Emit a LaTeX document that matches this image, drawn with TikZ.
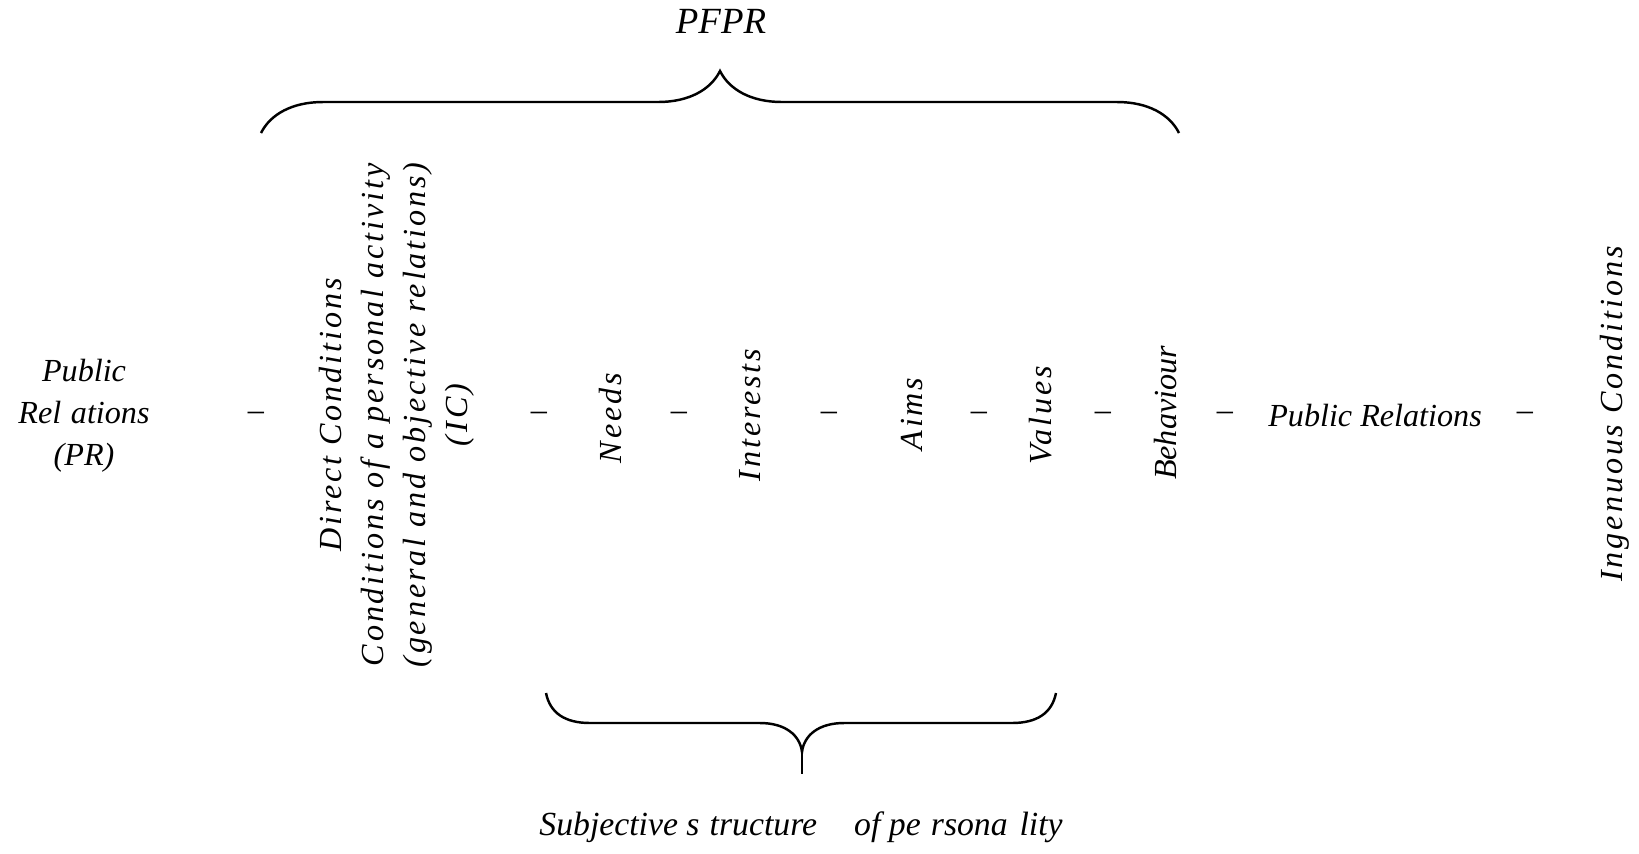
\documentclass[tikz,border=0pt]{standalone}
\usepackage{fontspec}
\setmainfont{Liberation Serif}
\usepackage{tikz}
\usetikzlibrary{decorations.pathreplacing,calc}

\newcommand{\lsp}{\addfontfeature{LetterSpace=9}}

\begin{document}
\begin{tikzpicture}[x=0.02cm,y=-0.02cm,
  every node/.style={font=\fontsize{18.3}{23.9}\selectfont\itshape, inner sep=0pt},
  vlab/.style={rotate=90, align=center, font=\fontsize{18.3}{23.9}\selectfont\itshape\lsp},
  brc/.style={line width=1.4pt}]
\useasboundingbox (0,0) rectangle (1639,853);

\node (pr) at (84,416) [align=center] {Public\\Rel\hspace{0.3em}ations\\(PR)};
\node (d1) at (256,416) {--};
\node (dc) at (397,415) [vlab] {Direct Conditions\\Conditions of a personal activity\\(general and objective relations)\\(IC)};
\node (d2) at (539,416) {--};
\node (needs) at (611,418) [vlab] {Needs};
\node (d3) at (679,416) {--};
\node (inter) at (750,415) [vlab] {Interests};
\node (d4) at (829,416) {--};
\node (aims) at (912,414) [vlab] {Aims};
\node (d5) at (979,416) {--};
\node (vals) at (1041,415) [vlab] {Values};
\node (d6) at (1103,416) {--};
\node (beh) at (1166,413) [rotate=90] {Behaviour};
\node (d7) at (1225,416) {--};
\node (pr2) at (1375,416) {Public Relations};
\node (d8) at (1525,416) {--};
\node (ing) at (1615,414) [vlab] {Ingenuous Conditions};

\node (pfpr) at (721,21) [font=\fontsize{21}{24}\selectfont\itshape] {PFPR};
\node (subj) at (801,827) [font=\fontsize{19.2}{24}\selectfont\itshape]
  {Subjective s\hspace{0.3em}tructure\hspace{1.1em}of pe\hspace{0.3em}rsona\hspace{0.35em}lity};

% braces
\coordinate (tl) at (261,133);
\coordinate (tr) at (1179,133);
\draw[brc, decorate, decoration={brace, amplitude=1.24cm}] (tl) -- (tr);

\coordinate (bl) at (546,693);
\coordinate (br) at (1056,693);
\coordinate (bt) at (802,752);
\draw[brc] (bl) .. controls (550,713) and (565,723) .. (590,723) -- (760,723)
  .. controls (785,723) and (800,735) .. (bt)
  .. controls (804,735) and (819,723) .. (844,723) -- (1012,723)
  .. controls (1037,723) and (1052,713) .. (br);
\draw[line width=0.9pt] (bt) -- (802,774);

\end{tikzpicture}
\end{document}
